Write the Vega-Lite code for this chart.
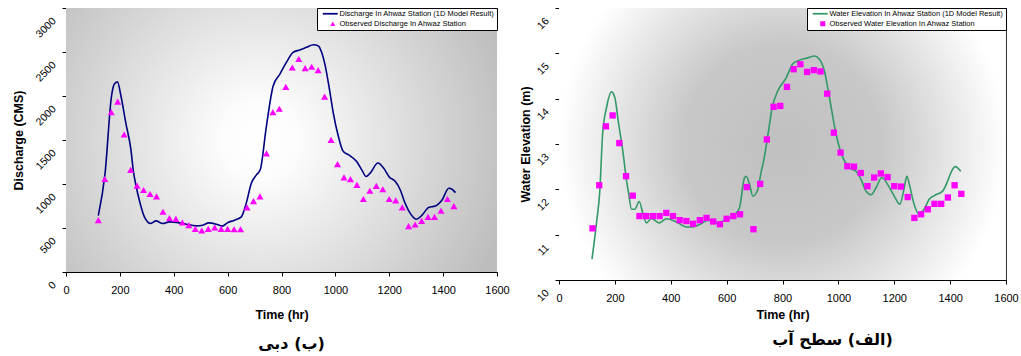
{
  "$schema": "https://vega.github.io/schema/vega-lite/v6.json",
  "padding": {"left": 12, "top": 7, "right": 0, "bottom": 0},
  "autosize": {"type": "pad"},
  "background": "white",
  "config": {
    "font": "Liberation Sans",
    "axis": {"domainColor": "black", "tickColor": "black", "grid": false, "labelColor": "black", "titleColor": "black", "labelFont": "Liberation Sans", "titleFont": "Liberation Sans", "tickSize": 4, "domainWidth": 1, "tickWidth": 1, "labelFlush": false, "labelOverlap": false, "titleFontWeight": "bold", "titleFontSize": 12.5, "format": "d"},
    "legend": {"orient": "top-right", "offset": 0, "labelFontSize": 7.5, "labelFont": "Liberation Sans", "labelColor": "black", "symbolSize": 25, "padding": 2, "rowPadding": 1, "strokeColor": "black", "fillColor": "white", "labelLimit": 400, "symbolOffset": 10, "labelOffset": 3, "symbolStrokeWidth": 0},
    "concat": {"spacing": 8}
  },
  "datasets": {
    "dischargeModel": [
      {"time": 120, "discharge": 640}, {"time": 145, "discharge": 1120}, {"time": 169, "discharge": 2000}, {"time": 179, "discharge": 2134}, {"time": 191, "discharge": 2160}, {"time": 204, "discharge": 2000}, {"time": 222, "discharge": 1695}, {"time": 241, "discharge": 1390}, {"time": 250, "discharge": 1150}, {"time": 260, "discharge": 980}, {"time": 272, "discharge": 818}, {"time": 291, "discharge": 627}, {"time": 315, "discharge": 551}, {"time": 334, "discharge": 581}, {"time": 359, "discharge": 551}, {"time": 384, "discharge": 570}, {"time": 421, "discharge": 558}, {"time": 446, "discharge": 543}, {"time": 483, "discharge": 524}, {"time": 508, "discharge": 532}, {"time": 530, "discharge": 558}, {"time": 558, "discharge": 543}, {"time": 580, "discharge": 521}, {"time": 601, "discharge": 563}, {"time": 626, "discharge": 589}, {"time": 651, "discharge": 627}, {"time": 669, "discharge": 780}, {"time": 688, "discharge": 1009}, {"time": 707, "discharge": 1104}, {"time": 721, "discharge": 1161}, {"time": 744, "discharge": 1657}, {"time": 769, "discharge": 2114}, {"time": 794, "discharge": 2248}, {"time": 818, "discharge": 2382}, {"time": 843, "discharge": 2496}, {"time": 868, "discharge": 2523}, {"time": 893, "discharge": 2553}, {"time": 918, "discharge": 2583}, {"time": 936, "discharge": 2572}, {"time": 949, "discharge": 2496}, {"time": 961, "discharge": 2362}, {"time": 980, "discharge": 2039}, {"time": 992, "discharge": 1810}, {"time": 1011, "discharge": 1542}, {"time": 1029, "discharge": 1371}, {"time": 1048, "discharge": 1333}, {"time": 1079, "discharge": 1256}, {"time": 1098, "discharge": 1161}, {"time": 1114, "discharge": 1085}, {"time": 1129, "discharge": 1123}, {"time": 1158, "discharge": 1238}, {"time": 1179, "discharge": 1181}, {"time": 1200, "discharge": 1080}, {"time": 1222, "discharge": 1030}, {"time": 1241, "discharge": 932}, {"time": 1259, "discharge": 780}, {"time": 1278, "discharge": 666}, {"time": 1300, "discharge": 600}, {"time": 1322, "discharge": 646}, {"time": 1346, "discharge": 734}, {"time": 1371, "discharge": 749}, {"time": 1396, "discharge": 818}, {"time": 1421, "discharge": 952}, {"time": 1433, "discharge": 940}, {"time": 1446, "discharge": 902}
    ],
    "dischargeObserved": [
      {"time": 120, "discharge": 589}, {"time": 144, "discharge": 1057}, {"time": 168, "discharge": 1817}, {"time": 192, "discharge": 1936}, {"time": 216, "discharge": 1562}, {"time": 240, "discharge": 1161}, {"time": 264, "discharge": 982}, {"time": 288, "discharge": 932}, {"time": 312, "discharge": 887}, {"time": 336, "discharge": 860}, {"time": 360, "discharge": 684}, {"time": 384, "discharge": 612}, {"time": 408, "discharge": 604}, {"time": 432, "discharge": 563}, {"time": 456, "discharge": 532}, {"time": 480, "discharge": 490}, {"time": 504, "discharge": 471}, {"time": 528, "discharge": 490}, {"time": 552, "discharge": 505}, {"time": 576, "discharge": 490}, {"time": 600, "discharge": 490}, {"time": 624, "discharge": 486}, {"time": 648, "discharge": 486}, {"time": 672, "discharge": 734}, {"time": 696, "discharge": 806}, {"time": 720, "discharge": 860}, {"time": 744, "discharge": 1348}, {"time": 768, "discharge": 1817}, {"time": 792, "discharge": 1855}, {"time": 816, "discharge": 2103}, {"time": 840, "discharge": 2324}, {"time": 864, "discharge": 2420}, {"time": 888, "discharge": 2317}, {"time": 912, "discharge": 2332}, {"time": 936, "discharge": 2294}, {"time": 960, "discharge": 1993}, {"time": 984, "discharge": 1501}, {"time": 1008, "discharge": 1226}, {"time": 1032, "discharge": 1075}, {"time": 1056, "discharge": 1056}, {"time": 1080, "discharge": 990}, {"time": 1104, "discharge": 829}, {"time": 1128, "discharge": 924}, {"time": 1152, "discharge": 978}, {"time": 1176, "discharge": 940}, {"time": 1200, "discharge": 829}, {"time": 1224, "discharge": 814}, {"time": 1248, "discharge": 734}, {"time": 1272, "discharge": 521}, {"time": 1296, "discharge": 540}, {"time": 1320, "discharge": 581}, {"time": 1344, "discharge": 627}, {"time": 1368, "discharge": 627}, {"time": 1392, "discharge": 696}, {"time": 1416, "discharge": 829}, {"time": 1440, "discharge": 749}
    ],
    "elevationModel": [
      {"time": 118, "elevation": 10.46}, {"time": 135, "elevation": 11.3}, {"time": 146, "elevation": 11.96}, {"time": 156, "elevation": 13.21}, {"time": 170, "elevation": 13.8}, {"time": 188, "elevation": 14.15}, {"time": 200, "elevation": 14.02}, {"time": 212, "elevation": 13.51}, {"time": 230, "elevation": 12.77}, {"time": 242, "elevation": 12.18}, {"time": 248, "elevation": 11.96}, {"time": 260, "elevation": 11.56}, {"time": 271, "elevation": 11.56}, {"time": 287, "elevation": 11.73}, {"time": 301, "elevation": 11.45}, {"time": 313, "elevation": 11.26}, {"time": 331, "elevation": 11.36}, {"time": 358, "elevation": 11.26}, {"time": 385, "elevation": 11.35}, {"time": 420, "elevation": 11.28}, {"time": 456, "elevation": 11.17}, {"time": 480, "elevation": 11.17}, {"time": 504, "elevation": 11.23}, {"time": 534, "elevation": 11.32}, {"time": 563, "elevation": 11.26}, {"time": 587, "elevation": 11.3}, {"time": 623, "elevation": 11.41}, {"time": 646, "elevation": 11.59}, {"time": 664, "elevation": 12.26}, {"time": 670, "elevation": 12.29}, {"time": 682, "elevation": 12.11}, {"time": 694, "elevation": 11.85}, {"time": 712, "elevation": 12.0}, {"time": 724, "elevation": 12.4}, {"time": 730, "elevation": 12.55}, {"time": 748, "elevation": 13.21}, {"time": 763, "elevation": 13.8}, {"time": 783, "elevation": 14.17}, {"time": 813, "elevation": 14.46}, {"time": 837, "elevation": 14.77}, {"time": 861, "elevation": 14.85}, {"time": 891, "elevation": 14.9}, {"time": 914, "elevation": 14.94}, {"time": 932, "elevation": 14.87}, {"time": 950, "elevation": 14.61}, {"time": 968, "elevation": 14.02}, {"time": 992, "elevation": 13.21}, {"time": 1016, "elevation": 12.7}, {"time": 1039, "elevation": 12.48}, {"time": 1063, "elevation": 12.4}, {"time": 1081, "elevation": 12.22}, {"time": 1099, "elevation": 11.96}, {"time": 1117, "elevation": 11.88}, {"time": 1135, "elevation": 12.04}, {"time": 1156, "elevation": 12.26}, {"time": 1176, "elevation": 12.11}, {"time": 1200, "elevation": 11.85}, {"time": 1220, "elevation": 11.67}, {"time": 1236, "elevation": 12.04}, {"time": 1245, "elevation": 12.29}, {"time": 1254, "elevation": 12.11}, {"time": 1271, "elevation": 11.67}, {"time": 1287, "elevation": 11.46}, {"time": 1307, "elevation": 11.56}, {"time": 1325, "elevation": 11.78}, {"time": 1349, "elevation": 11.88}, {"time": 1373, "elevation": 11.96}, {"time": 1391, "elevation": 12.18}, {"time": 1403, "elevation": 12.37}, {"time": 1418, "elevation": 12.5}, {"time": 1438, "elevation": 12.4}
    ],
    "elevationObserved": [
      {"time": 120, "elevation": 11.14}, {"time": 144, "elevation": 12.09}, {"time": 168, "elevation": 13.39}, {"time": 192, "elevation": 13.63}, {"time": 216, "elevation": 13.02}, {"time": 240, "elevation": 12.29}, {"time": 264, "elevation": 11.86}, {"time": 288, "elevation": 11.41}, {"time": 312, "elevation": 11.41}, {"time": 336, "elevation": 11.41}, {"time": 360, "elevation": 11.41}, {"time": 384, "elevation": 11.48}, {"time": 408, "elevation": 11.41}, {"time": 432, "elevation": 11.32}, {"time": 456, "elevation": 11.3}, {"time": 480, "elevation": 11.24}, {"time": 504, "elevation": 11.32}, {"time": 528, "elevation": 11.37}, {"time": 552, "elevation": 11.29}, {"time": 576, "elevation": 11.23}, {"time": 600, "elevation": 11.35}, {"time": 624, "elevation": 11.41}, {"time": 648, "elevation": 11.45}, {"time": 672, "elevation": 12.05}, {"time": 696, "elevation": 11.12}, {"time": 720, "elevation": 12.12}, {"time": 744, "elevation": 13.1}, {"time": 768, "elevation": 13.82}, {"time": 792, "elevation": 13.84}, {"time": 816, "elevation": 14.26}, {"time": 840, "elevation": 14.65}, {"time": 864, "elevation": 14.76}, {"time": 888, "elevation": 14.59}, {"time": 912, "elevation": 14.63}, {"time": 936, "elevation": 14.6}, {"time": 960, "elevation": 14.11}, {"time": 984, "elevation": 13.25}, {"time": 1008, "elevation": 12.81}, {"time": 1032, "elevation": 12.51}, {"time": 1056, "elevation": 12.5}, {"time": 1080, "elevation": 12.36}, {"time": 1104, "elevation": 12.07}, {"time": 1128, "elevation": 12.26}, {"time": 1152, "elevation": 12.35}, {"time": 1176, "elevation": 12.27}, {"time": 1200, "elevation": 12.07}, {"time": 1224, "elevation": 12.06}, {"time": 1248, "elevation": 11.83}, {"time": 1272, "elevation": 11.37}, {"time": 1296, "elevation": 11.45}, {"time": 1320, "elevation": 11.56}, {"time": 1344, "elevation": 11.68}, {"time": 1368, "elevation": 11.68}, {"time": 1392, "elevation": 11.82}, {"time": 1416, "elevation": 12.09}, {"time": 1440, "elevation": 11.9}
    ]
  },
  "hconcat": [
    {
      "width": 431,
      "height": 264,
      "title": {"text": "\u200F(ب) دبی\u200F", "orient": "bottom", "font": "DejaVu Sans", "fontSize": 16, "fontWeight": "bold", "color": "black", "dx": 10, "offset": 15},
      "view": {"stroke": null},
      "layer": [
        {
          "data": {"values": [{}]},
          "mark": {"type": "rect", "color": {"gradient": "radial", "x1": 0.45, "y1": 0.5, "x2": 0.45, "y2": 0.5, "r1": 0, "r2": 0.6, "stops": [{"offset": 0, "color": "#ffffff"}, {"offset": 0.15, "color": "#fcfcfc"}, {"offset": 1, "color": "#bdbdbd"}]}},
          "encoding": {
            "x": {"datum": 0, "type": "quantitative", "scale": {"domain": [0, 1600], "nice": false}, "axis": {"title": "Time (hr)", "values": [0, 200, 400, 600, 800, 1000, 1200, 1400, 1600], "labelFontSize": 11, "labelPadding": 8, "titlePadding": 13}},
            "x2": {"datum": 1600},
            "y": {"datum": 0, "type": "quantitative", "scale": {"domain": [0, 3000], "nice": false}, "axis": {"title": "Discharge (CMS)", "values": [0, 500, 1000, 1500, 2000, 2500, 3000], "labelAngle": -45, "labelAlign": "right", "labelBaseline": "middle", "labelOffset": 11, "labelPadding": 8, "labelFontSize": 10.5, "titlePadding": 8}},
            "y2": {"datum": 3000}
          }
        },
        {
          "data": {"name": "dischargeModel"},
          "mark": {"type": "line", "color": "#000080", "strokeWidth": 1.6, "interpolate": "monotone"},
          "encoding": {
            "x": {"field": "time", "type": "quantitative", "scale": {"domain": [0, 1600], "nice": false}, "axis": {"title": "Time (hr)", "values": [0, 200, 400, 600, 800, 1000, 1200, 1400, 1600], "labelFontSize": 11, "labelPadding": 8, "titlePadding": 13}},
            "y": {"field": "discharge", "type": "quantitative", "scale": {"domain": [0, 3000], "nice": false}, "axis": {"title": "Discharge (CMS)", "values": [0, 500, 1000, 1500, 2000, 2500, 3000], "labelAngle": -45, "labelAlign": "right", "labelBaseline": "middle", "labelOffset": 11, "labelPadding": 8, "labelFontSize": 10.5, "titlePadding": 8}}
          }
        },
        {
          "data": {"name": "dischargeObserved"},
          "mark": {"type": "point", "filled": true, "size": 50, "opacity": 1},
          "encoding": {
            "x": {"field": "time", "type": "quantitative", "scale": {"domain": [0, 1600], "nice": false}, "axis": {"title": "Time (hr)", "values": [0, 200, 400, 600, 800, 1000, 1200, 1400, 1600], "labelFontSize": 11, "labelPadding": 8, "titlePadding": 13}},
            "y": {"field": "discharge", "type": "quantitative", "scale": {"domain": [0, 3000], "nice": false}, "axis": {"title": "Discharge (CMS)", "values": [0, 500, 1000, 1500, 2000, 2500, 3000], "labelAngle": -45, "labelAlign": "right", "labelBaseline": "middle", "labelOffset": 11, "labelPadding": 8, "labelFontSize": 10.5, "titlePadding": 8}},
            "color": {"datum": "Observed Discharge In Ahwaz Station", "scale": {"domain": ["Discharge In Ahwaz Station (1D Model Result)", "Observed Discharge In Ahwaz Station"], "range": ["#000080", "#ff00ff"]}, "legend": {"title": null}},
            "shape": {"datum": "Observed Discharge In Ahwaz Station", "scale": {"domain": ["Discharge In Ahwaz Station (1D Model Result)", "Observed Discharge In Ahwaz Station"], "range": ["M-4,-0.35H2V0.35H-4Z", "triangle-up"]}, "legend": {"title": null}}
          }
        }
      ]
    },
    {
      "width": 447,
      "height": 272,
      "title": {"text": "\u200F(الف) سطح آب\u200F", "orient": "bottom", "font": "DejaVu Sans", "fontSize": 16, "fontWeight": "bold", "color": "black", "dx": 50, "offset": 11},
      "view": {"stroke": "#333333"},
      "layer": [
        {
          "data": {"values": [{}]},
          "mark": {"type": "rect", "color": {"gradient": "radial", "x1": 0.5, "y1": 0.5, "x2": 0.5, "y2": 0.5, "r1": 0, "r2": 0.5, "stops": [{"offset": 0, "color": "#c0c0c0"}, {"offset": 0.45, "color": "#c8c8c8"}, {"offset": 1, "color": "#ffffff"}]}},
          "encoding": {
            "x": {"datum": 0, "type": "quantitative", "scale": {"domain": [0, 1600], "nice": false}, "axis": {"title": "Time (hr)", "values": [0, 200, 400, 600, 800, 1000, 1200, 1400, 1600], "labelFontSize": 11, "labelPadding": 8, "titlePadding": 5}},
            "x2": {"datum": 1600},
            "y": {"datum": 10, "type": "quantitative", "scale": {"domain": [10, 16], "nice": false, "zero": false}, "axis": {"title": "Water Elevation (m)", "values": [10, 11, 12, 13, 14, 15, 16], "labelAngle": -45, "labelAlign": "right", "labelBaseline": "middle", "labelOffset": 11, "labelPadding": 8, "labelFontSize": 10.5, "titlePadding": 3}},
            "y2": {"datum": 16}
          }
        },
        {
          "data": {"name": "elevationModel"},
          "mark": {"type": "line", "color": "#339966", "strokeWidth": 1.6, "interpolate": "monotone"},
          "encoding": {
            "x": {"field": "time", "type": "quantitative", "scale": {"domain": [0, 1600], "nice": false}, "axis": {"title": "Time (hr)", "values": [0, 200, 400, 600, 800, 1000, 1200, 1400, 1600], "labelFontSize": 11, "labelPadding": 8, "titlePadding": 5}},
            "y": {"field": "elevation", "type": "quantitative", "scale": {"domain": [10, 16], "nice": false, "zero": false}, "axis": {"title": "Water Elevation (m)", "values": [10, 11, 12, 13, 14, 15, 16], "labelAngle": -45, "labelAlign": "right", "labelBaseline": "middle", "labelOffset": 11, "labelPadding": 8, "labelFontSize": 10.5, "titlePadding": 3}}
          }
        },
        {
          "data": {"name": "elevationObserved"},
          "mark": {"type": "point", "filled": true, "size": 40, "opacity": 1},
          "encoding": {
            "x": {"field": "time", "type": "quantitative", "scale": {"domain": [0, 1600], "nice": false}, "axis": {"title": "Time (hr)", "values": [0, 200, 400, 600, 800, 1000, 1200, 1400, 1600], "labelFontSize": 11, "labelPadding": 8, "titlePadding": 5}},
            "y": {"field": "elevation", "type": "quantitative", "scale": {"domain": [10, 16], "nice": false, "zero": false}, "axis": {"title": "Water Elevation (m)", "values": [10, 11, 12, 13, 14, 15, 16], "labelAngle": -45, "labelAlign": "right", "labelBaseline": "middle", "labelOffset": 11, "labelPadding": 8, "labelFontSize": 10.5, "titlePadding": 3}},
            "color": {"datum": "Observed Water Elevation In Ahwaz Station", "scale": {"domain": ["Water Elevation In Ahwaz Station (1D Model Result)", "Observed Water Elevation In Ahwaz Station"], "range": ["#339966", "#ff00ff"]}, "legend": {"title": null}},
            "shape": {"datum": "Observed Water Elevation In Ahwaz Station", "scale": {"domain": ["Water Elevation In Ahwaz Station (1D Model Result)", "Observed Water Elevation In Ahwaz Station"], "range": ["M-4,-0.35H2V0.35H-4Z", "square"]}, "legend": {"title": null}}
          }
        }
      ],
      "resolve": {"scale": {"color": "independent", "shape": "independent"}}
    }
  ],
  "resolve": {"scale": {"color": "independent", "shape": "independent"}, "legend": {"color": "independent", "shape": "independent"}}
}
